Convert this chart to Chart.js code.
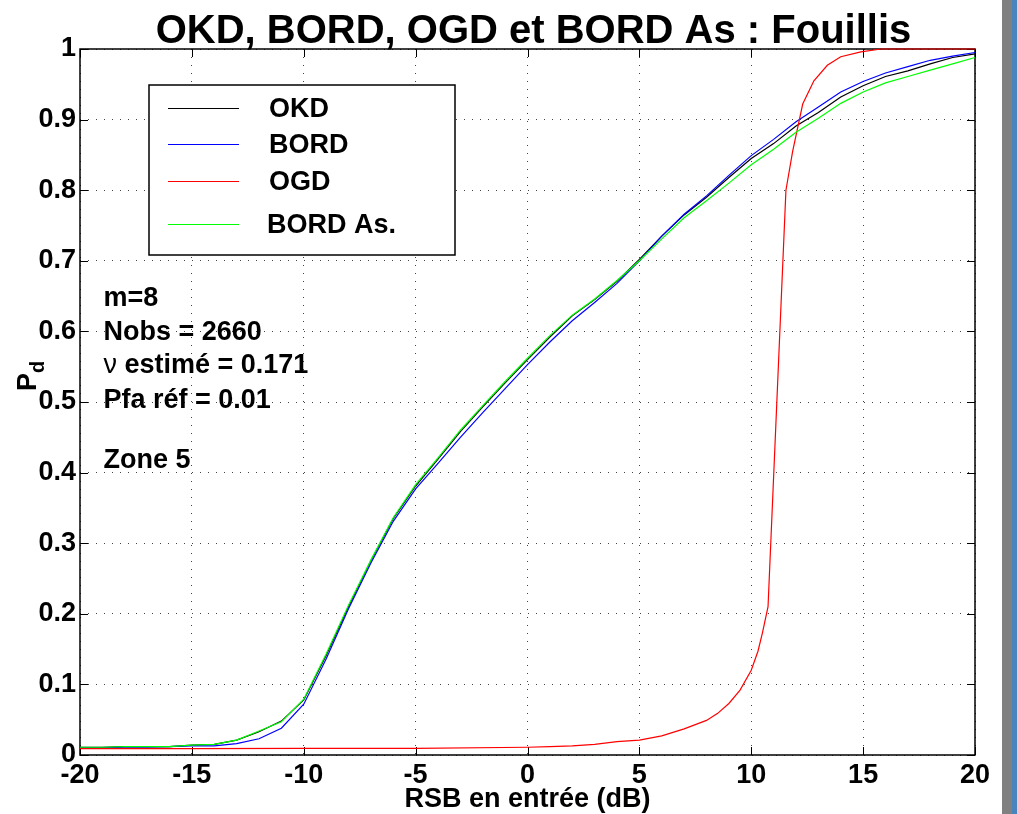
<!DOCTYPE html>
<html>
<head>
<meta charset="utf-8">
<title>OKD, BORD, OGD et BORD As : Fouillis</title>
<script src="https://cdn.jsdelivr.net/npm/chart.js@4.4.1/dist/chart.umd.min.js"></script>
<style>
  html, body { margin: 0; padding: 0; background: #ffffff; }
  #wrap { position: relative; width: 1017px; height: 814px; overflow: hidden; background: #ffffff; }
  #c { position: absolute; left: 0; top: 0; }
  .edge-grey { position: absolute; left: 1002px; top: 0; width: 10px; height: 814px; background: #808080; }
  .edge-blue { position: absolute; left: 1012px; top: 0; width: 5px; height: 814px; background: #4a84bf; }
</style>
</head>
<body>
<div id="wrap">
  <canvas id="c" width="1017" height="814"></canvas>
  <div class="edge-grey"></div>
  <div class="edge-blue"></div>
</div>
<script>
// Input SNR grid (dB) shared by OKD, BORD and BORD As.
const snr = [-20, -19, -18, -17, -16, -15, -14, -13, -12, -11, -10, -9, -8, -7, -6, -5, -4, -3, -2, -1,
             0, 1, 2, 3, 4, 5, 6, 7, 8, 9, 10, 11, 12, 13, 14, 15, 16, 17, 18, 19, 20];

// Detection probability Pd for each detector
const okd = [0.011, 0.011, 0.012, 0.012, 0.012, 0.014, 0.015, 0.021, 0.033, 0.048, 0.078, 0.141, 0.210, 0.275, 0.335, 0.381, 0.419, 0.458, 0.493, 0.527,
             0.560, 0.592, 0.622, 0.645, 0.671, 0.702, 0.735, 0.765, 0.790, 0.818, 0.845, 0.866, 0.891, 0.910, 0.932, 0.948, 0.961, 0.969, 0.979, 0.988, 0.993];
const bord = [0.010, 0.010, 0.011, 0.011, 0.012, 0.013, 0.013, 0.016, 0.023, 0.038, 0.072, 0.136, 0.207, 0.272, 0.331, 0.377, 0.413, 0.450, 0.485, 0.519,
              0.553, 0.585, 0.615, 0.641, 0.668, 0.700, 0.735, 0.766, 0.792, 0.821, 0.849, 0.872, 0.897, 0.918, 0.939, 0.954, 0.966, 0.975, 0.984, 0.990, 0.995];
const bordAs = [0.011, 0.011, 0.012, 0.012, 0.012, 0.014, 0.015, 0.021, 0.034, 0.047, 0.079, 0.143, 0.212, 0.276, 0.336, 0.383, 0.421, 0.460, 0.495, 0.529,
                0.562, 0.594, 0.623, 0.646, 0.672, 0.700, 0.731, 0.761, 0.785, 0.810, 0.836, 0.858, 0.882, 0.902, 0.923, 0.939, 0.952, 0.961, 0.970, 0.979, 0.988];

// OGD is sampled more finely around its transition
const ogdSnr = [-20, -15, -10, -5, 0, 1, 2, 3, 4, 5, 6, 7, 8, 8.5, 9, 9.5, 10, 10.3, 10.5, 10.75,
                11.55, 11.85, 12.3, 12.8, 13.4, 14, 14.9, 15.8, 17, 18, 19, 20];
const ogd = [0.009, 0.009, 0.0095, 0.0095, 0.011, 0.012, 0.013, 0.015, 0.019, 0.021, 0.027, 0.037, 0.049, 0.059, 0.073, 0.092, 0.120, 0.147, 0.173, 0.210,
             0.800, 0.855, 0.922, 0.955, 0.977, 0.989, 0.996, 1.000, 1.000, 1.000, 1.000, 1.000];

// Axis ticks
const xTicks = [-20, -15, -10, -5, 0, 5, 10, 15, 20];
const yTicks = [0, 0.1, 0.2, 0.3, 0.4, 0.5, 0.6, 0.7, 0.8, 0.9, 1];
const yTickLabels = ['0', '0.1', '0.2', '0.3', '0.4', '0.5', '0.6', '0.7', '0.8', '0.9', '1'];

// Texts
const titleText = 'OKD, BORD, OGD et BORD As : Fouillis';
const xTitle = 'RSB en entrée (dB)';
const infoLines = [
  { y: 0.636, parts: [['m=8', 'bold']] },
  { y: 0.588, parts: [['Nobs = 2660', 'bold']] },
  { y: 0.541, parts: [['\u03bd', 'normal'], [' estimé = 0.171', 'bold']] },
  { y: 0.492, parts: [['Pfa réf = 0.01', 'bold']] },
  { y: 0.407, parts: [['Zone 5', 'bold']] }
];
const infoX = -18.95;

const FONT = "'Liberation Sans', Arial, Helvetica, sans-serif";
const pts = (xs, ys) => xs.map((x, i) => ({ x: x, y: ys[i] }));

const decor = {
  id: 'decor',
  beforeDatasetsDraw(chart) {
    const { ctx, chartArea: a, scales: { x, y } } = chart;
    ctx.save();
    ctx.strokeStyle = '#000000';
    ctx.lineWidth = 1;
    ctx.beginPath();
    xTicks.forEach(v => {
      const px = Math.round(x.getPixelForValue(v)) + 0.5;
      ctx.moveTo(px, a.bottom); ctx.lineTo(px, a.bottom - 8);
      ctx.moveTo(px, a.top); ctx.lineTo(px, a.top + 8);
    });
    yTicks.forEach(v => {
      const py = Math.round(y.getPixelForValue(v)) + 0.5;
      ctx.moveTo(a.left, py); ctx.lineTo(a.left + 8, py);
      ctx.moveTo(a.right, py); ctx.lineTo(a.right - 8, py);
    });
    ctx.stroke();
    ctx.lineWidth = 1.5;
    ctx.strokeRect(a.left, a.top, a.right - a.left, a.bottom - a.top);
    ctx.restore();
  },
  afterDatasetsDraw(chart) {
    const { ctx, chartArea: a, scales: { x, y } } = chart;
    ctx.save();

    // Legend box
    const lx = a.left + 69, ly = a.top + 36, lw = 306, lh = 170;
    ctx.fillStyle = '#ffffff';
    ctx.fillRect(lx, ly, lw, lh);
    ctx.strokeStyle = '#000000';
    ctx.lineWidth = 1.5;
    ctx.strokeRect(lx, ly, lw, lh);
    const rows = [23, 59, 96, 139];
    ctx.font = 'bold 27px ' + FONT;
    ctx.textBaseline = 'middle';
    ctx.textAlign = 'left';
    chart.data.datasets.forEach((ds, i) => {
      const ry = ly + rows[i] + 0.5;
      ctx.strokeStyle = ds.borderColor;
      ctx.lineWidth = 1;
      ctx.beginPath();
      ctx.moveTo(lx + 19, ry); ctx.lineTo(lx + 90, ry);
      ctx.stroke();
      ctx.fillStyle = '#000000';
      ctx.fillText(ds.label, lx + (i === 3 ? 118 : 120), ry + 1);
    });

    // Info block
    ctx.textBaseline = 'alphabetic';
    infoLines.forEach(line => {
      let px = x.getPixelForValue(infoX);
      const py = y.getPixelForValue(line.y);
      line.parts.forEach(([txt, w]) => {
        ctx.font = w + ' 27px ' + FONT;
        ctx.fillText(txt, px, py);
        px += ctx.measureText(txt).width;
      });
    });

    // Title
    ctx.font = 'bold 40px ' + FONT;
    ctx.textAlign = 'center';
    ctx.fillText(titleText, (a.left + a.right) / 2 + 6, 43);

    // Y axis title P_d
    ctx.translate(36, 376);
    ctx.rotate(-Math.PI / 2);
    ctx.textAlign = 'left';
    ctx.font = 'bold 27px ' + FONT;
    const wP = ctx.measureText('P').width;
    ctx.fillText('P', -wP / 2 - 6, 0);
    ctx.font = 'bold 20px ' + FONT;
    ctx.fillText('d', wP / 2 - 6, 8);
    ctx.restore();
  }
};

new Chart(document.getElementById('c'), {
  type: 'line',
  data: {
    datasets: [
      { label: 'OKD', data: pts(snr, okd), borderColor: '#000000', order: 3, clip: false },
      { label: 'BORD', data: pts(snr, bord), borderColor: '#0000ff', order: 2, clip: false },
      { label: 'OGD', data: pts(ogdSnr, ogd), borderColor: '#ff0000', order: 1, clip: false },
      { label: 'BORD As.', data: pts(snr, bordAs), borderColor: '#00ff00', order: 0, clip: false }
    ]
  },
  options: {
    responsive: false,
    animation: false,
    devicePixelRatio: 1,
    elements: {
      point: { radius: 0, hoverRadius: 0 },
      line: { borderWidth: 1.2, tension: 0, fill: false }
    },
    layout: { padding: { top: 49, right: 42, left: 0, bottom: 0 } },
    plugins: {
      legend: { display: false },
      tooltip: { enabled: false },
      title: { display: false }
    },
    scales: {
      x: {
        type: 'linear',
        min: -20, max: 20,
        afterBuildTicks: s => { s.ticks = xTicks.map(v => ({ value: v })); },
        afterFit: s => { s.height = 59; },
        ticks: {
          color: '#000000',
          font: { family: FONT, size: 27, weight: 'bold' },
          padding: 4,
          maxRotation: 0,
          autoSkip: false,
          callback: v => String(v)
        },
        grid: { color: '#444444', lineWidth: 1, drawTicks: false },
        border: { display: false, dash: [1, 7] },
        title: {
          display: true,
          text: xTitle,
          color: '#000000',
          font: { family: FONT, size: 27, weight: 'bold' },
          padding: { top: 0, bottom: -2 }
        }
      },
      y: {
        type: 'linear',
        min: 0, max: 1,
        afterBuildTicks: s => { s.ticks = yTicks.map(v => ({ value: v })); },
        afterFit: s => { s.width = 80; },
        ticks: {
          color: '#000000',
          font: { family: FONT, size: 27, weight: 'bold' },
          padding: 4,
          autoSkip: false,
          callback: (v, i) => yTickLabels[i]
        },
        grid: { color: '#444444', lineWidth: 1, drawTicks: false },
        border: { display: false, dash: [1, 7] }
      }
    }
  },
  plugins: [decor]
});
</script>
</body>
</html>
